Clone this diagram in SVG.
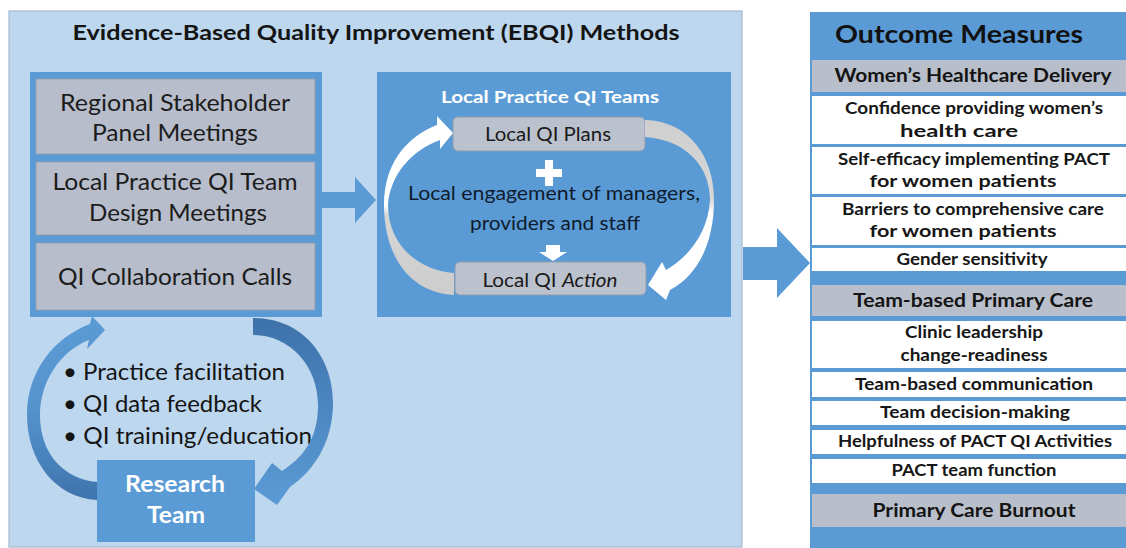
<svg xmlns="http://www.w3.org/2000/svg" width="1126" height="548" viewBox="0 0 1126 548">
  <style>
    .panel { fill: #bdd7ee; stroke: #a3b9cf; stroke-width: 1.2; }
    .blue { fill: #5b9bd5; }
    .gbox { fill: #b7bdca; stroke: #8f9fb4; stroke-width: 1; }
    .pill { fill: #bcc2cd; stroke: #8e9db2; stroke-width: 1; }
    .row { fill: #ffffff; }
    .hrow { fill: #b9bfca; }
    text { font-family: "Lato", "Open Sans", "Liberation Sans", sans-serif; text-anchor: middle; }
    .t-title { font-size: 21.5px; font-weight: bold; fill: #141414; }
    .t-box { font-size: 22.5px; fill: #1c1c1c; }
    .t-bul { font-size: 22.5px; fill: #141414; text-anchor: start; }
    .t-mid { font-size: 19.5px; fill: #0f1c2e; }
    .t-pill { font-size: 18.5px; fill: #1a1a1a; }
    .t-white { font-weight: bold; fill: #ffffff; }
    .t-om { font-size: 25px; font-weight: bold; fill: #111111; }
    .t-head { font-size: 19px; font-weight: bold; fill: #141414; }
    .t-row { font-size: 17px; font-weight: bold; fill: #161616; }
  </style>
  <defs>
    <linearGradient id="arcUp" gradientUnits="userSpaceOnUse" x1="0" y1="316" x2="0" y2="500">
      <stop offset="0" stop-color="#5b9bd5"/>
      <stop offset="0.5" stop-color="#5593cd"/>
      <stop offset="1" stop-color="#3f74ae"/>
    </linearGradient>
    <linearGradient id="arcDown" gradientUnits="userSpaceOnUse" x1="0" y1="318" x2="0" y2="505">
      <stop offset="0" stop-color="#3d71aa"/>
      <stop offset="0.5" stop-color="#4d87c2"/>
      <stop offset="1" stop-color="#5b9bd5"/>
    </linearGradient>
    <linearGradient id="loopLeft" gradientUnits="userSpaceOnUse" x1="0" y1="116" x2="0" y2="295">
      <stop offset="0" stop-color="#ffffff"/>
      <stop offset="0.5" stop-color="#ffffff"/>
      <stop offset="0.56" stop-color="#d5d5d5"/>
      <stop offset="1" stop-color="#cdcdcd"/>
    </linearGradient>
    <linearGradient id="loopRight" gradientUnits="userSpaceOnUse" x1="0" y1="120" x2="0" y2="300">
      <stop offset="0" stop-color="#cfcfcf"/>
      <stop offset="0.44" stop-color="#d7d7d7"/>
      <stop offset="0.52" stop-color="#ffffff"/>
      <stop offset="1" stop-color="#ffffff"/>
    </linearGradient>
  </defs>

  <rect width="1126" height="548" fill="#ffffff"/>

  <!-- EBQI methods panel -->
  <g id="ebqi-panel">
    <rect class="panel" x="9" y="11" width="733" height="536"/>
    <text class="t-title" x="376" y="40" textLength="607" lengthAdjust="spacingAndGlyphs">Evidence-Based Quality Improvement (EBQI) Methods</text>
  </g>

  <!-- stack of meeting types -->
  <g id="meetings">
    <rect class="blue" x="30" y="72" width="292" height="245"/>
    <g id="stakeholder-panel">
      <rect class="gbox" x="36" y="79" width="279" height="75"/>
      <text class="t-box" x="175" y="111" textLength="230" lengthAdjust="spacingAndGlyphs">Regional Stakeholder</text>
      <text class="t-box" x="175" y="141" textLength="166" lengthAdjust="spacingAndGlyphs">Panel Meetings</text>
    </g>
    <g id="design-meetings">
      <rect class="gbox" x="36" y="162" width="279" height="73"/>
      <text class="t-box" x="175" y="190" textLength="245" lengthAdjust="spacingAndGlyphs">Local Practice QI Team</text>
      <text class="t-box" x="178" y="221" textLength="178" lengthAdjust="spacingAndGlyphs">Design Meetings</text>
    </g>
    <g id="collab-calls">
      <rect class="gbox" x="36" y="243" width="279" height="67"/>
      <text class="t-box" x="175" y="285" textLength="234" lengthAdjust="spacingAndGlyphs">QI Collaboration Calls</text>
    </g>
  </g>

  <!-- support activities -->
  <g id="support-list">
    <text class="t-bul" x="63" y="380" textLength="222" lengthAdjust="spacingAndGlyphs">• Practice facilitation</text>
    <text class="t-bul" x="63" y="412" textLength="199" lengthAdjust="spacingAndGlyphs">• QI data feedback</text>
    <text class="t-bul" x="63" y="444" textLength="249" lengthAdjust="spacingAndGlyphs">• QI training/education</text>
  </g>

  <g id="research-team">
    <rect class="blue" x="97" y="460" width="158" height="82"/>
    <text class="t-white" x="175" y="492" font-size="23" textLength="100" lengthAdjust="spacingAndGlyphs">Research</text>
    <text class="t-white" x="176" y="523" font-size="23" textLength="58" lengthAdjust="spacingAndGlyphs">Team</text>
  </g>

  <!-- local practice QI teams -->
  <g id="qi-teams">
    <rect class="blue" x="377" y="72" width="354" height="245"/>
    <text class="t-white" x="550" y="103" font-size="17.5" textLength="218" lengthAdjust="spacingAndGlyphs">Local Practice QI Teams</text>
    <g id="qi-plans">
      <rect class="pill" x="453" y="117" width="192" height="34" rx="5"/>
      <text class="t-pill" x="548" y="141" textLength="126" lengthAdjust="spacingAndGlyphs">Local QI Plans</text>
    </g>
    <path fill="#ffffff" d="M545 160h8v9h9v8h-9v9h-8v-9h-9v-8h9z"/>
    <text class="t-mid" x="554" y="200" textLength="292" lengthAdjust="spacingAndGlyphs">Local engagement of managers,</text>
    <text class="t-mid" x="555" y="230" textLength="170" lengthAdjust="spacingAndGlyphs">providers and staff</text>
    <path fill="#ffffff" d="M546 245h14v7h7l-14 9l-14-9h7z"/>
    <g id="qi-action">
      <rect class="pill" x="455" y="262" width="191" height="33" rx="5"/>
      <text class="t-pill" x="550" y="287" textLength="135" lengthAdjust="spacingAndGlyphs">Local QI <tspan font-style="italic">Action</tspan></text>
    </g>
  </g>

  <!-- outcome measures column -->
  <g id="outcomes">
    <rect class="blue" x="810" y="12" width="316" height="536"/>
    <text class="t-om" x="959" y="43" textLength="248" lengthAdjust="spacingAndGlyphs">Outcome Measures</text>

    <rect class="hrow" x="812" y="60" width="314" height="32"/>
    <text class="t-head" x="973" y="82" textLength="277" lengthAdjust="spacingAndGlyphs">Women’s Healthcare Delivery</text>

    <rect class="row" x="812" y="96" width="314" height="48"/>
    <text class="t-row" x="974" y="114" textLength="258" lengthAdjust="spacingAndGlyphs">Confidence providing women’s</text>
    <text class="t-row" x="959" y="137" textLength="118" lengthAdjust="spacingAndGlyphs">health care</text>

    <rect class="row" x="812" y="147" width="314" height="47"/>
    <text class="t-row" x="974" y="165" textLength="272" lengthAdjust="spacingAndGlyphs">Self-efficacy implementing PACT</text>
    <text class="t-row" x="963" y="187" textLength="187" lengthAdjust="spacingAndGlyphs">for women patients</text>

    <rect class="row" x="812" y="197" width="314" height="48"/>
    <text class="t-row" x="973" y="215" textLength="262" lengthAdjust="spacingAndGlyphs">Barriers to comprehensive care</text>
    <text class="t-row" x="963" y="237" textLength="187" lengthAdjust="spacingAndGlyphs">for women patients</text>

    <rect class="row" x="812" y="248" width="314" height="23"/>
    <text class="t-row" x="972" y="265" textLength="151" lengthAdjust="spacingAndGlyphs">Gender sensitivity</text>

    <rect class="hrow" x="812" y="285" width="314" height="31"/>
    <text class="t-head" x="973" y="307" textLength="240" lengthAdjust="spacingAndGlyphs">Team-based Primary Care</text>

    <rect class="row" x="812" y="321" width="314" height="47"/>
    <text class="t-row" x="974" y="338" textLength="138" lengthAdjust="spacingAndGlyphs">Clinic leadership</text>
    <text class="t-row" x="974" y="361" textLength="147" lengthAdjust="spacingAndGlyphs">change-readiness</text>

    <rect class="row" x="812" y="372" width="314" height="25"/>
    <text class="t-row" x="974" y="390" textLength="238" lengthAdjust="spacingAndGlyphs">Team-based communication</text>

    <rect class="row" x="812" y="401" width="314" height="24"/>
    <text class="t-row" x="975" y="418" textLength="190" lengthAdjust="spacingAndGlyphs">Team decision-making</text>

    <rect class="row" x="812" y="430" width="314" height="24"/>
    <text class="t-row" x="975" y="447" textLength="274" lengthAdjust="spacingAndGlyphs">Helpfulness of PACT QI Activities</text>

    <rect class="row" x="812" y="459" width="314" height="24"/>
    <text class="t-row" x="974" y="476" textLength="165" lengthAdjust="spacingAndGlyphs">PACT team function</text>

    <rect class="hrow" x="812" y="494" width="314" height="33"/>
    <text class="t-head" x="974" y="517" textLength="203" lengthAdjust="spacingAndGlyphs">Primary Care Burnout</text>
  </g>

  <!-- connectors: block arrows and curved loop arrows -->
  <g id="connectors">
    <!-- meetings to QI teams -->
    <path class="blue" d="M322 192h33v-15l21 23l-21 23v-15h-33z"/>
    <!-- methods to outcomes -->
    <path class="blue" d="M743 247h34v-19l33 35l-33 35v-18h-34z"/>
    <!-- research team up to collaboration calls -->
    <path fill="url(#arcUp)" d="M97 500C55 498 27 460 27 415C27 372 53 338 90 324L92 316L105 330L87 349L89 340C62 350 40 380 40 415C40 455 65 479 97 482Z"/>
    <!-- collaboration calls down to research team -->
    <path fill="url(#arcDown)" d="M253 318C305 318 334 360 333 405C332 445 312 472 290 487L277 505L254 489L272 463L282 471C302 458 318 440 318 405C318 366 290 335 253 335Z"/>
    <!-- action back to plans -->
    <path fill="url(#loopLeft)" d="M454 295C405 292 384 250 384 205C384 166 404 138 437 125L437 116L453 133L440 149L440 140C410 151 390 176 388 205C388 242 415 270 454 273Z"/>
    <!-- plans on to action -->
    <path fill="url(#loopRight)" d="M645 120C690 121 714 158 714 200C714 240 700 274 670 290L666 300L648 285L662 262L666 270C690 256 708 232 710 200C710 166 686 140 645 137Z"/>
  </g>
</svg>
